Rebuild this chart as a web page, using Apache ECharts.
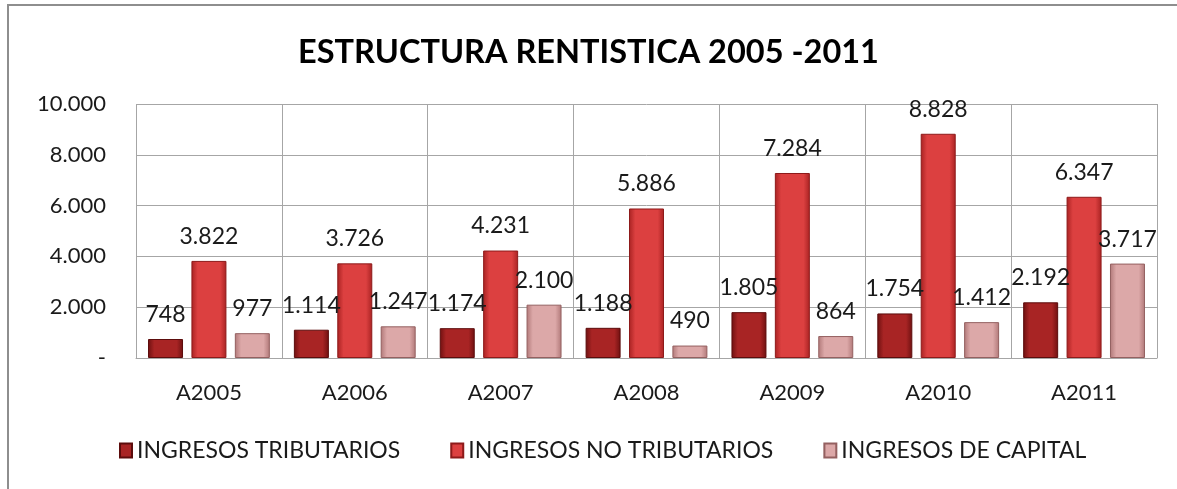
<!DOCTYPE html>
<html>
<head>
<meta charset="utf-8">
<title>Estructura rentistica</title>
<script src="https://cdn.jsdelivr.net/npm/echarts@6/dist/echarts.min.js"></script>
<style>
    html, body { margin: 0; padding: 0; background: #fff; }
    #frame {
        position: absolute; left: 7px; top: 4px; width: 1170px; height: 485px;
        border-top: 2px solid #8e8e8e; border-left: 2px solid #8e8e8e;
        box-sizing: border-box;
    }
    #chart { position: absolute; left: 0; top: 0; width: 1177px; height: 489px; }
</style>
</head>
<body>
<div id="frame"></div>
<div id="chart"></div>
<script>
var categories = ['A2005', 'A2006', 'A2007', 'A2008', 'A2009', 'A2010', 'A2011'];
var tributarios = [748, 1114, 1174, 1188, 1805, 1754, 2192];
var noTributarios = [3822, 3726, 4231, 5886, 7284, 8828, 6347];
var capital = [977, 1247, 2100, 490, 864, 1412, 3717];
var seriesNames = ['INGRESOS TRIBUTARIOS', 'INGRESOS NO TRIBUTARIOS', 'INGRESOS DE CAPITAL'];

var fontName = 'Lato';

function miles(v) {
    if (v === 0) {
        return '-';
    }
    return String(v).replace(/\B(?=(\d{3})+(?!\d))/g, '.');
}

// barra con bisel: bordes oscuros, centro claro
function bevel(edge, mid) {
    return new echarts.graphic.LinearGradient(0, 0, 1, 0, [
        {offset: 0, color: edge},
        {offset: 0.18, color: mid},
        {offset: 0.82, color: mid},
        {offset: 1, color: edge}
    ]);
}

function serie(name, data, edge, mid, border) {
    return {
        name: name,
        type: 'bar',
        data: data,
        barWidth: 35,
        barGap: '24%',
        itemStyle: {
            color: bevel(edge, mid),
            borderColor: border,
            borderWidth: 1
        },
        label: {
            show: true,
            position: 'top',
            distance: 13,
            color: '#1a1a1a',
            fontFamily: fontName,
            fontSize: 23,
            formatter: function (p) {
                return miles(p.value);
            }
        }
    };
}

var myChart = echarts.init(document.getElementById('chart'));
var option = {
    animation: false,
    title: {
        text: 'ESTRUCTURA RENTISTICA 2005 -2011',
        left: 'center',
        top: 31,
        textStyle: {
            fontFamily: fontName,
            fontWeight: 'bold',
            fontSize: 32.5,
            color: '#000'
        }
    },
    legend: {
        data: seriesNames,
        bottom: 22,
        left: 114,
        icon: 'rect',
        itemWidth: 12,
        itemHeight: 14,
        itemGap: 50,
        textStyle: {
            fontFamily: fontName,
            fontSize: 23,
            color: '#1a1a1a'
        }
    },
    grid: {
        left: 136,
        right: 20,
        top: 104,
        bottom: 131
    },
    xAxis: {
        type: 'category',
        data: categories,
        axisTick: {show: false},
        axisLine: {lineStyle: {color: '#a6a6a6', width: 1}},
        splitLine: {show: true, interval: 0, lineStyle: {color: '#a6a6a6', width: 1}},
        axisLabel: {
            margin: 24,
            fontFamily: fontName,
            fontSize: 22,
            color: '#1a1a1a'
        }
    },
    yAxis: {
        type: 'value',
        min: 0,
        max: 10000,
        interval: 2000,
        axisLine: {show: false},
        axisTick: {show: false},
        splitLine: {lineStyle: {color: '#a6a6a6', width: 1}},
        axisLabel: {
            margin: 30,
            fontFamily: fontName,
            fontSize: 22,
            color: '#1a1a1a',
            formatter: miles
        }
    },
    series: [
        serie(seriesNames[0], tributarios, '#6e1010', '#a82424', '#5c0c0c'),
        serie(seriesNames[1], noTributarios, '#a82222', '#dc4040', '#8e1a1a'),
        serie(seriesNames[2], capital, '#b07878', '#dca8a8', '#946060')
    ]
};

myChart.setOption(option);
</script>
</body>
</html>
